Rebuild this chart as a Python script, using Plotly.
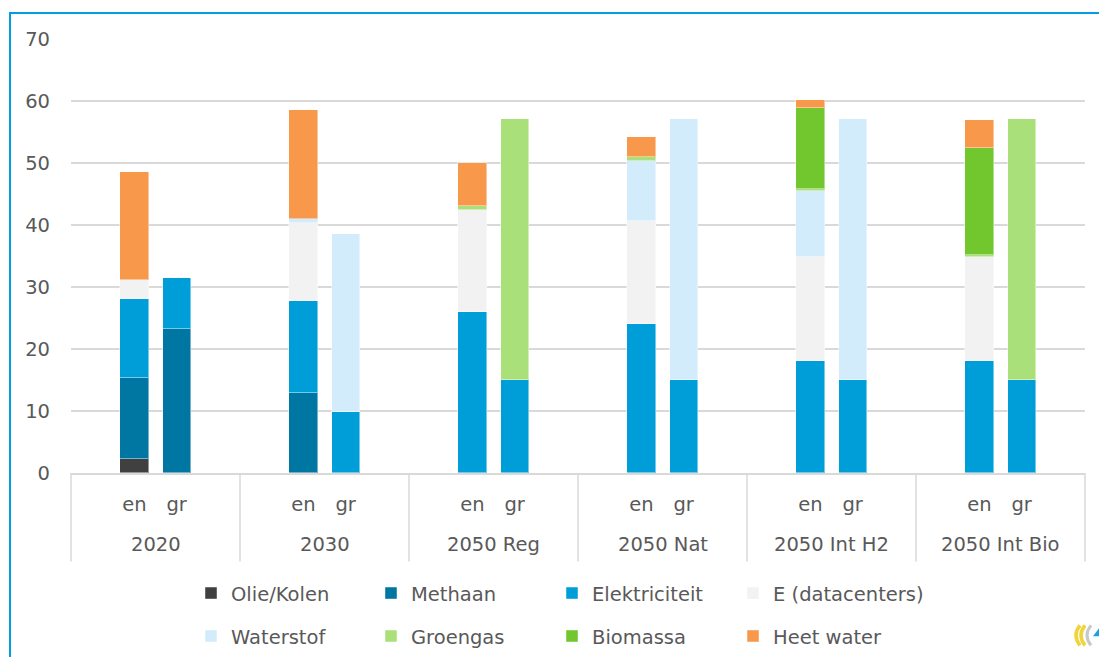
import plotly.graph_objects as go

# Scenario groups and the two bars inside each group
groups = ["2020", "2030", "2050 Reg", "2050 Nat", "2050 Int H2", "2050 Int Bio"]
subs = ["en", "gr"]

# Values per carrier, ordered (group, sub): 2020 en, 2020 gr, 2030 en, 2030 gr, ...
olie_kolen = [2.3, None, None, None, None, None, None, None, None, None, None, None]
methaan = [13.0, 23.2, 12.9, None, None, None, None, None, None, None, None, None]
elektriciteit = [12.8, 8.2, 14.9, 9.9, 26.0, 15.0, 24.1, 15.0, 18.0, 15.0, 18.0, 15.0]
e_datacenters = [3.1, None, 12.6, None, 16.5, None, 16.5, None, 16.8, None, 16.8, None]
waterstof = [None, None, 0.5, 28.6, None, None, 9.7, 42.1, 10.7, 42.1, None, None]
groengas = [None, None, None, None, 0.6, 42.1, 0.6, None, 0.3, None, 0.3, 42.1]
biomassa = [None, None, None, None, None, None, None, None, 13.0, None, 17.4, None]
heet_water = [17.3, None, 17.6, None, 6.9, None, 3.3, None, 1.3, None, 4.5, None]

series = [
    ("Olie/Kolen", olie_kolen, "#404040"),
    ("Methaan", methaan, "#0076A3"),
    ("Elektriciteit", elektriciteit, "#009ED9"),
    ("E (datacenters)", e_datacenters, "#F2F2F2"),
    ("Waterstof", waterstof, "#D3ECFC"),
    ("Groengas", groengas, "#A9E07A"),
    ("Biomassa", biomassa, "#72C62E"),
    ("Heet water", heet_water, "#F7984A"),
]

# Bar centres: each group occupies one unit on the x axis
SHIFT = {"en": -0.124, "gr": 0.125}
xpos, xlab = [], []
for i, g in enumerate(groups):
    for s in subs:
        xpos.append(i + 0.5 + SHIFT[s])
        xlab.append(s)

FONT = "DejaVu Sans"
TXT = "#595959"
FS = 19.5

W, H = 1099, 657
L, R, T, B = 71, 1085, 39, 473.5
pw, ph = R - L, B - T


def px_x(x):
    return (x - L) / pw


def px_y(y):
    return (B - y) / ph


# one legend box per entry: 4 columns x 2 rows
LEG_TEXT_X = [226, 406, 587, 768]
LEG_ROW_Y = [594, 637]
legend_ids = ["legend"] + ["legend%d" % k for k in range(2, 9)]

fig = go.Figure()
for k, (name, vals, col) in enumerate(series):
    fig.add_trace(go.Bar(
        x=xpos, y=vals, name=name, width=0.167,
        marker=dict(color=col, line=dict(color="rgba(255,255,255,0.45)", width=1)),
        legend=legend_ids[k],
    ))

legends = {}
for k, lid in enumerate(legend_ids):
    legends[lid] = dict(
        orientation="h", xanchor="left", yanchor="middle",
        x=px_x(LEG_TEXT_X[k % 4] - 35), y=px_y(LEG_ROW_Y[k // 4]),
        bgcolor="rgba(0,0,0,0)",
        font=dict(family=FONT, size=FS, color=TXT),
    )

shapes = []
# group dividers below the category axis
for i in range(len(groups) + 1):
    shapes.append(dict(type="line", xref="paper", yref="paper",
                       x0=i / len(groups), x1=i / len(groups), y0=0, y1=px_y(562),
                       line=dict(color="#D9D9D9", width=1.5)))
# chart-area frame
shapes.append(dict(type="rect", xref="paper", yref="paper",
                   x0=px_x(10), x1=px_x(1115), y0=px_y(700), y1=px_y(13),
                   line=dict(color="#00A0E0", width=2), fillcolor="rgba(0,0,0,0)"))


def arc(x0, y0, xc, yc, x1, y1):
    return "M %f %f Q %f %f %f %f" % (px_x(x0), px_y(y0), px_x(xc), px_y(yc), px_x(x1), px_y(y1))


# small corner emblem
for path, col, lw in [
    (arc(1080, 626, 1072, 636, 1080, 646), "#F0D43A", 3.5),
    (arc(1085, 626, 1077, 636, 1085, 646), "#F0D43A", 3.5),
    (arc(1091, 626, 1083, 636, 1091, 646), "#C8C8C8", 3),
]:
    shapes.append(dict(type="path", xref="paper", yref="paper", path=path,
                       line=dict(color=col, width=lw)))
shapes.append(dict(type="path", xref="paper", yref="paper",
                   path="M %f %f L %f %f L %f %f Z" % (px_x(1093), px_y(637), px_x(1099), px_y(629),
                                                       px_x(1099), px_y(637)),
                   fillcolor="#1EA0DC", line=dict(width=0)))

annotations = []
for i, g in enumerate(groups):
    annotations.append(dict(text=g, xref="paper", yref="paper",
                            x=(i + 0.5) / len(groups), y=px_y(545),
                            xanchor="center", yanchor="middle", showarrow=False,
                            font=dict(family=FONT, size=FS, color=TXT)))

fig.update_layout(
    width=W, height=H,
    margin=dict(l=L, r=W - R, t=T, b=H - B, pad=0, autoexpand=False),
    paper_bgcolor="white", plot_bgcolor="white",
    barmode="stack", bargap=0,
    showlegend=True,
    xaxis=dict(range=[0, len(groups)], tickvals=xpos, ticktext=xlab,
               showgrid=False, zeroline=False, showline=True,
               linecolor="#D9D9D9", linewidth=1.5, ticks="",
               ticklabelstandoff=13, automargin=False,
               tickfont=dict(family=FONT, size=FS, color=TXT)),
    yaxis=dict(range=[0, 70], dtick=10, showgrid=True, gridcolor="#D9D9D9",
               gridwidth=1.5, zeroline=False, showline=False, ticks="",
               ticklabelstandoff=20, automargin=False,
               tickfont=dict(family=FONT, size=FS, color=TXT)),
    shapes=shapes, annotations=annotations,
    **legends,
)

fig.write_html("out.html")
